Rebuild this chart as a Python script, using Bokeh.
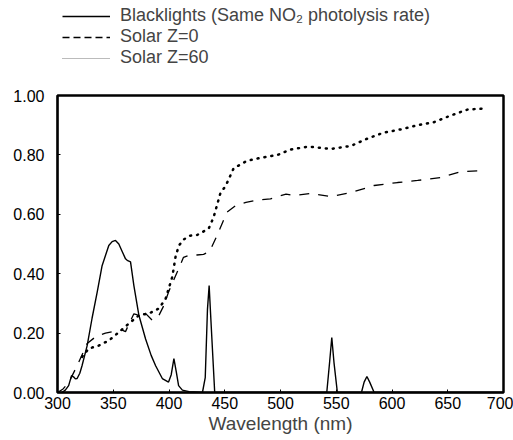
from bokeh.plotting import figure
from bokeh.layouts import column
from bokeh.models import Legend, LegendItem, FixedTicker, NumeralTickFormatter, Range1d
from bokeh.embed import file_html
from bokeh.resources import INLINE

# Blacklights (same NO2 photolysis rate)
bl_x = [300, 304, 307, 310, 312.6, 314.6, 316, 317.6, 320, 322, 326.6, 331, 335.6, 340, 346, 349, 352, 355,
        358, 361, 362.5, 365.5, 368.5, 373, 379, 384, 388, 394, 399.6, 402, 404.4, 406.5, 408.6, 412, 418,
        430, 432.5, 434.5, 436, 437.5, 441, 470, 541.5, 544, 546, 548, 551, 572.6, 575, 577.5, 580, 584, 640, 700]
bl_y = [0, 0.0, 0.008, 0.023, 0.057, 0.052, 0.046, 0.047, 0.065, 0.09, 0.158, 0.25, 0.338, 0.427, 0.495, 0.508, 0.512, 0.5,
        0.475, 0.45, 0.445, 0.44, 0.36, 0.26, 0.18, 0.125, 0.09, 0.047, 0.035, 0.06, 0.114, 0.07, 0.023, 0.008, 0.003,
        0.0, 0.05, 0.28, 0.36, 0.25, 0.0, 0.0, 0.0, 0.1, 0.185, 0.1, 0.0, 0.0, 0.035, 0.054, 0.035, 0.0, 0.0, 0.0]

# Solar Z=0
z0_x = [300, 305, 310, 317.6, 326.6, 335, 343, 350, 358, 361, 364, 368.5, 373, 377.5, 385, 391, 395, 399.6, 406,
        413, 417.6, 425, 431, 436.6, 443, 452, 460, 469, 480, 491, 505, 512, 527, 545, 563, 584, 605, 623,
        644, 662, 684]
z0_y = [0.0, 0.012, 0.033, 0.09, 0.165, 0.19, 0.2, 0.205, 0.21, 0.205, 0.23, 0.265, 0.26, 0.272, 0.243, 0.26, 0.29, 0.338, 0.394,
        0.455, 0.461, 0.463, 0.465, 0.476, 0.528, 0.607, 0.63, 0.64, 0.648, 0.652, 0.668, 0.663, 0.67, 0.66, 0.673, 0.697, 0.707, 0.714,
        0.724, 0.744, 0.747]

# Solar Z=60
z60_x = [322, 328, 337, 346, 355, 364, 373, 382, 391, 397, 403, 406, 409, 413, 419, 425, 430, 435.6, 440, 443, 446,
         451, 458, 470, 482, 497.5, 509, 525, 545, 563, 578, 592.6, 608, 623, 637.5, 653, 668, 684]
z60_y = [0.12, 0.148, 0.158, 0.175, 0.203, 0.232, 0.26, 0.266, 0.283, 0.316, 0.39, 0.46, 0.495, 0.515, 0.528, 0.53, 0.54, 0.552, 0.59, 0.63, 0.67,
         0.697, 0.755, 0.78, 0.79, 0.80, 0.818, 0.828, 0.82, 0.83, 0.855, 0.875, 0.886, 0.9, 0.91, 0.933, 0.953, 0.956]

x_ticks = [300, 350, 400, 450, 500, 550, 600, 650, 700]
y_ticks = [0.0, 0.2, 0.4, 0.6, 0.8, 1.0]
labels = ["Blacklights (Same NO\u2082 photolysis rate)", "Solar Z=0", "Solar Z=60"]

FONT = "Liberation Sans"
TOP_H = 75

# ---- legend strip on top ----
lf = figure(width=513, height=TOP_H, output_backend="svg", toolbar_location=None,
            x_range=Range1d(0, 1), y_range=Range1d(0, 1),
            min_border=0, min_border_left=0, min_border_right=0, min_border_top=0, min_border_bottom=0)
lf.axis.visible = False
lf.grid.visible = False
lf.outline_line_color = None
# off-range stand-ins so the legend can draw its line samples
lg_bl = lf.line([-5, -4], [-5, -5], line_color="black", line_width=1.5)
lg_z0 = lf.line([-5, -4], [-5, -5], line_color="black", line_width=1.3, line_dash="7 4")
lg_z60 = lf.line([-5, -4], [-5, -5], line_color="#777777", line_width=1.0, line_dash="1 1")

legend = Legend(items=[
    LegendItem(label=labels[0], renderers=[lg_bl]),
    LegendItem(label=labels[1], renderers=[lg_z0]),
    LegendItem(label=labels[2], renderers=[lg_z60]),
], location=(5, 7))
legend.border_line_color = None
legend.background_fill_alpha = 0
legend.label_text_font = FONT
legend.label_text_font_size = "18px"
legend.glyph_width = 48
legend.glyph_height = 16
legend.label_standoff = 10
legend.spacing = 0
legend.padding = 0
legend.margin = 0
legend.label_height = 16
lf.add_layout(legend)

# ---- main plot ----
p = figure(width=513, height=440 - TOP_H, output_backend="svg", toolbar_location=None,
           x_range=Range1d(300, 700), y_range=Range1d(0, 1.0),
           min_border_left=57, min_border_right=10, min_border_top=95 - TOP_H, min_border_bottom=48)
p.grid.visible = False
p.outline_line_color = "black"
p.outline_line_width = 2.5
p.background_fill_color = "white"
p.border_fill_color = "white"

p.line(bl_x, bl_y, line_color="black", line_width=1.4)
p.line(z0_x, z0_y, line_color="black", line_width=1.3, line_dash="10 9")
p.line(z60_x, z60_y, line_color="black", line_width=2.5, line_dash="1 6", line_cap="round")

for ax in (p.xaxis[0], p.yaxis[0]):
    ax.axis_line_color = "black"
    ax.axis_line_width = 1.5
    ax.major_tick_in = 3
    ax.major_tick_out = 0
    ax.minor_tick_in = 0
    ax.minor_tick_out = 0
    ax.major_label_text_font = FONT
    ax.major_label_text_font_size = "16px"
    ax.major_label_text_color = "black"

p.xaxis.ticker = FixedTicker(ticks=x_ticks)
p.yaxis.ticker = FixedTicker(ticks=y_ticks)
p.yaxis.formatter = NumeralTickFormatter(format="0.00")
p.xaxis.axis_label = "Wavelength (nm)"
p.xaxis.axis_label_text_font = FONT
p.xaxis.axis_label_text_font_size = "19px"
p.xaxis.axis_label_text_font_style = "normal"
p.xaxis.axis_label_standoff = 1
p.xaxis.major_label_standoff = 4
p.yaxis.major_label_standoff = 13

layout = column(lf, p, spacing=0)
open("out.html", "w").write(file_html(layout, INLINE))
